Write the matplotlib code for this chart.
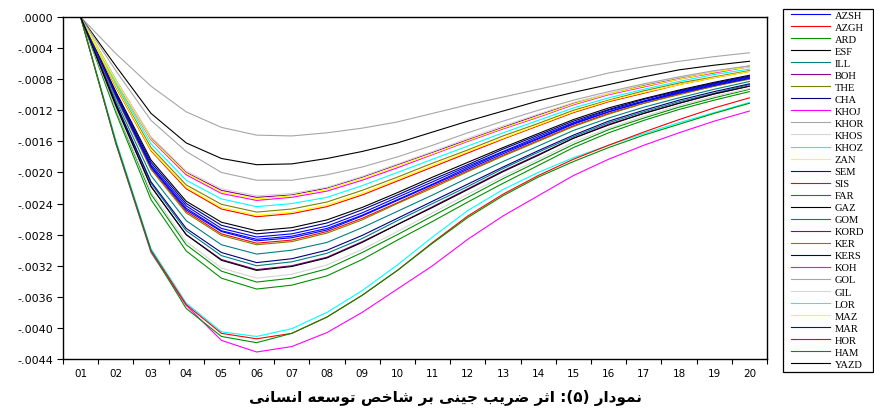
import matplotlib
matplotlib.use("Agg")
import matplotlib.pyplot as plt
from matplotlib.patches import Rectangle
import numpy as np

# ---------------- data (response values, in units of 1e-4) ----------------
periods = list(range(1, 21))
x_labels = ["01", "02", "03", "04", "05", "06", "07", "08", "09", "10",
            "11", "12", "13", "14", "15", "16", "17", "18", "19", "20"]
y_ticks = [0.0, -0.0004, -0.0008, -0.0012, -0.0016, -0.0020, -0.0024,
           -0.0028, -0.0032, -0.0036, -0.0040, -0.0044]
y_labels = [".0000", "-.0004", "-.0008", "-.0012", "-.0016", "-.0020",
            "-.0024", "-.0028", "-.0032", "-.0036", "-.0040", "-.0044"]

names = ["AZSH", "AZGH", "ARD", "ESF", "ILL", "BOH", "THE", "CHA", "KHOJ",
         "KHOR", "KHOS", "KHOZ", "ZAN", "SEM", "SIS", "FAR", "GAZ", "GOM",
         "KORD", "KER", "KERS", "KOH", "GOL", "GIL", "LOR", "MAZ", "MAR",
         "HOR", "HAM", "YAZD"]

AZSH = [0, -9.9, -19.0, -24.3, -27.2, -28.3, -27.9, -26.9, -25.2, -23.2, -21.2, -19.2, -17.3, -15.4, -13.6, -12.0, -10.8, -9.6, -8.6, -7.7]
AZGH = [0, -9.0, -17.2, -22.1, -24.7, -25.7, -25.3, -24.4, -22.9, -21.1, -19.3, -17.5, -15.7, -14.0, -12.3, -10.9, -9.8, -8.7, -7.8, -7.0]
ARD = [0, -12.3, -23.5, -30.1, -33.6, -35.0, -34.5, -33.3, -31.2, -28.7, -26.3, -23.8, -21.4, -19.1, -16.8, -14.9, -13.3, -11.9, -10.7, -9.6]
ESF = [0, -9.6, -18.4, -23.7, -26.4, -27.5, -27.1, -26.1, -24.5, -22.6, -20.6, -18.7, -16.8, -15.0, -13.2, -11.7, -10.5, -9.4, -8.4, -7.5]
ILL = [0, -10.7, -20.4, -26.2, -29.3, -30.5, -30.0, -29.0, -27.1, -25.0, -22.9, -20.7, -18.6, -16.6, -14.6, -13.0, -11.6, -10.4, -9.3, -8.3]
BOH = [0, -8.1, -15.5, -20.0, -22.3, -23.2, -22.9, -22.0, -20.6, -19.0, -17.4, -15.8, -14.2, -12.6, -11.1, -9.9, -8.8, -7.9, -7.1, -6.3]
THE = [0, -8.8, -16.8, -21.6, -24.1, -25.1, -24.7, -23.8, -22.3, -20.6, -18.8, -17.1, -15.3, -13.7, -12.0, -10.7, -9.5, -8.5, -7.7, -6.9]
CHA = [0, -9.8, -18.7, -24.0, -26.8, -27.9, -27.5, -26.5, -24.8, -22.9, -20.9, -19.0, -17.0, -15.2, -13.4, -11.9, -10.6, -9.5, -8.5, -7.6]
KHOJ = [0, -8.3, -15.8, -20.3, -22.7, -23.6, -23.2, -22.4, -21.0, -19.4, -17.7, -16.0, -14.4, -12.9, -11.3, -10.0, -9.0, -8.0, -7.2, -6.4]
KHOR = [0, -4.7, -8.9, -12.2, -14.2, -15.2, -15.3, -14.9, -14.3, -13.5, -12.4, -11.3, -10.3, -9.3, -8.3, -7.2, -6.4, -5.7, -5.1, -4.6]
KHOS = [0, -8.1, -15.4, -19.8, -22.1, -23.0, -22.7, -21.9, -20.5, -18.9, -17.3, -15.6, -14.0, -12.5, -11.0, -9.8, -8.7, -7.8, -7.0, -6.3]
KHOZ = [0, -8.5, -16.3, -21.0, -23.4, -24.4, -24.0, -23.2, -21.7, -20.0, -18.3, -16.6, -14.9, -13.3, -11.7, -10.4, -9.3, -8.3, -7.4, -6.7]
ZAN = [0, -8.2, -15.7, -20.1, -22.5, -23.4, -23.0, -22.2, -20.8, -19.2, -17.6, -15.9, -14.3, -12.8, -11.2, -9.9, -8.9, -8.0, -7.1, -6.4]
SEM = [0, -10.0, -19.2, -24.6, -27.5, -28.6, -28.2, -27.2, -25.5, -23.5, -21.5, -19.4, -17.4, -15.6, -13.7, -12.2, -10.9, -9.7, -8.7, -7.8]
SIS = [0, -10.2, -19.5, -25.0, -27.9, -29.1, -28.7, -27.6, -25.9, -23.9, -21.8, -19.8, -17.8, -15.9, -14.0, -12.4, -11.1, -9.9, -8.9, -7.9]
FAR = [0, -11.9, -22.8, -29.3, -32.7, -34.1, -33.6, -32.4, -30.3, -28.0, -25.6, -23.2, -20.8, -18.6, -16.4, -14.5, -13.0, -11.6, -10.4, -9.3]
GAZ = [0, -6.3, -12.4, -16.2, -18.2, -19.0, -18.9, -18.2, -17.3, -16.2, -14.8, -13.4, -12.1, -10.8, -9.7, -8.7, -7.7, -6.8, -6.2, -5.7]
GOM = [0, -11.2, -21.4, -27.5, -30.7, -32.0, -31.5, -30.4, -28.5, -26.2, -24.0, -21.8, -19.5, -17.4, -15.4, -13.6, -12.2, -10.9, -9.8, -8.7]
KORD = [0, -11.4, -21.8, -28.0, -31.2, -32.5, -32.0, -30.9, -28.9, -26.7, -24.4, -22.1, -19.8, -17.7, -15.6, -13.8, -12.4, -11.1, -9.9, -8.9]
KER = [0, -10.3, -19.6, -25.2, -28.1, -29.3, -28.9, -27.8, -26.1, -24.0, -22.0, -19.9, -17.9, -16.0, -14.1, -12.5, -11.1, -10.0, -8.9, -8.0]
KERS = [0, -11.1, -21.2, -27.2, -30.3, -31.6, -31.1, -30.0, -28.1, -25.9, -23.7, -21.5, -19.3, -17.2, -15.2, -13.4, -12.0, -10.7, -9.6, -8.6]
KOH = [0, -16.3, -30.3, -37.1, -41.6, -43.1, -42.4, -40.6, -38.0, -35.0, -32.0, -28.6, -25.6, -23.0, -20.4, -18.3, -16.5, -14.9, -13.4, -12.1]
GOL = [0, -6.9, -13.3, -17.3, -20.0, -21.0, -21.0, -20.3, -19.3, -18.0, -16.5, -14.9, -13.4, -12.0, -10.7, -9.6, -8.6, -7.7, -6.9, -6.3]
GIL = [0, -11.8, -22.5, -28.9, -32.3, -33.6, -33.1, -31.9, -29.9, -27.6, -25.2, -22.8, -20.5, -18.3, -16.1, -14.3, -12.8, -11.4, -10.2, -9.2]
LOR = [0, -15.8, -29.8, -36.8, -40.5, -41.1, -40.1, -38.0, -35.2, -31.9, -28.3, -24.9, -22.2, -20.0, -18.1, -16.5, -15.0, -13.6, -12.3, -11.0]
MAZ = [0, -8.9, -17.1, -21.9, -24.5, -25.5, -25.1, -24.2, -22.7, -20.9, -19.1, -17.3, -15.6, -13.9, -12.2, -10.8, -9.7, -8.7, -7.8, -7.0]
MAR = [0, -10.1, -19.3, -24.8, -27.6, -28.8, -28.4, -27.4, -25.6, -23.6, -21.6, -19.6, -17.6, -15.7, -13.8, -12.2, -10.9, -9.8, -8.8, -7.9]
HOR = [0, -16.1, -30.0, -37.0, -40.7, -41.4, -40.7, -38.6, -35.8, -32.6, -29.0, -25.6, -22.8, -20.4, -18.3, -16.5, -14.8, -13.2, -11.7, -10.4]
HAM = [0, -16.2, -30.1, -37.5, -41.1, -41.9, -40.7, -38.6, -35.8, -32.6, -29.1, -25.8, -23.0, -20.6, -18.6, -16.8, -15.2, -13.8, -12.4, -11.1]
YAZD = [0, -11.4, -21.8, -28.0, -31.3, -32.6, -32.1, -31.0, -29.0, -26.7, -24.5, -22.2, -19.9, -17.8, -15.6, -13.9, -12.4, -11.1, -9.9, -8.9]

series = [AZSH, AZGH, ARD, ESF, ILL, BOH, THE, CHA, KHOJ, KHOR, KHOS, KHOZ,
          ZAN, SEM, SIS, FAR, GAZ, GOM, KORD, KER, KERS, KOH, GOL, GIL, LOR,
          MAZ, MAR, HOR, HAM, YAZD]
unit = 1e-4

# EViews-like colour cycle (13 colours)
palette = ["#0000FF", "#FF0000", "#009000", "#000000", "#008080", "#900090",
           "#808000", "#000080", "#FF00FF", "#A6A6A6", "#D6D6D6", "#00FFFF",
           "#FFFF00"]

# Persian title (pre-shaped presentation forms, visual order)
title = ("\uFEF0\uFEE7\uFE8E\uFEB4\uFEE7\uFE8D \uFEEA\uFECC\uFEB3\uFEEE\uFE97 "
         "\uFEBA\uFEA7\uFE8E\uFEB7 \uFEAE\uFE91 \uFEF0\uFEE8\uFEF4\uFE9F "
         "\uFE90\uFEF3\uFEAE\uFEBF \uFEAE\uFE9B\uFE8D :(\u06F5) "
         "\uFEAD\uFE8D\uFEA9\uFEEE\uFEE4\uFEE7")

# ---------------- figure ----------------
W, H = 874, 414
fig = plt.figure(figsize=(W / 100, H / 100), dpi=100)
fig.patch.set_facecolor("white")
ax = fig.add_axes([63 / W, 1 - 360 / H, 704 / W, 342 / H])

handles = []
for i, (nm, vals) in enumerate(zip(names, series)):
    ln, = ax.plot(periods, np.array(vals) * unit, color=palette[i % 13],
                  lw=0.8, label=nm, solid_joinstyle="miter")
    handles.append(ln)

ax.set_xlim(0.5, 20.5)
ax.set_ylim(-0.0044, 0.0)

# x: ticks at category boundaries, labels at centres
ax.set_xticks(np.arange(0.5, 21, 1.0))
ax.set_xticklabels([])
ax.set_xticks(periods, minor=True)
ax.set_xticklabels(x_labels, minor=True, fontsize=7.5, family="DejaVu Sans")
ax.tick_params(axis="x", which="major", direction="out", length=3.6, width=0.8)
ax.tick_params(axis="x", which="minor", length=0, pad=6.5)

ax.set_yticks(y_ticks)
ax.set_yticklabels(y_labels, fontsize=8, family="DejaVu Sans")
ax.tick_params(axis="y", direction="out", length=4.5, width=0.8, pad=2.7)

for sp in ax.spines.values():
    sp.set_linewidth(1.0)
    sp.set_color("black")

# legend with separate frame
fig.patches.append(Rectangle((783 / W, 1 - 373 / H), 89.5 / W, 363 / H,
                             transform=fig.transFigure, fill=False,
                             edgecolor="black", lw=0.9))
leg = fig.legend(handles, names, loc="upper left",
                 bbox_to_anchor=(791 / W, 1 - 11.5 / H), frameon=False,
                 borderpad=0, borderaxespad=0, labelspacing=0.25,
                 handlelength=3.65, handletextpad=0.48,
                 prop={"family": "Liberation Serif", "size": 7.6})

fig.text(445 / W, 1 - 398 / H, title, ha="center", va="center",
         fontsize=11, fontweight="bold", family=["DejaVu Sans"])

fig.savefig("out.png", dpi=100, facecolor="white")
